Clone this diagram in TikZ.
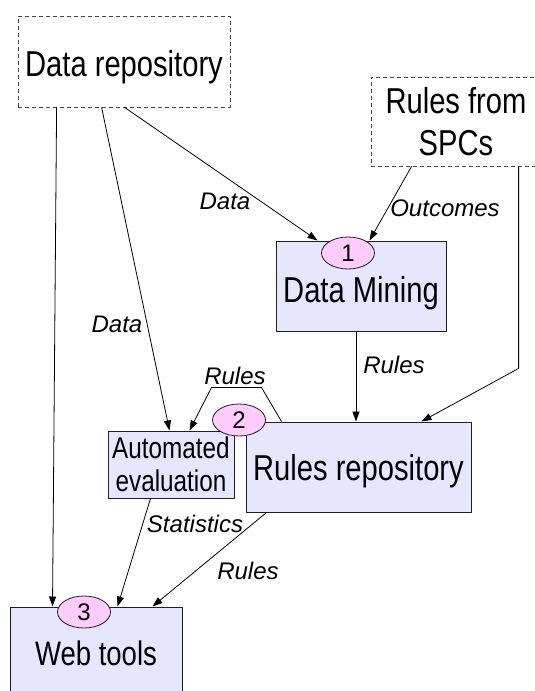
\documentclass[tikz,border=0pt]{standalone}
\usepackage{fontspec}
\setmainfont{Liberation Sans}
\newfontfamily\boxfont[FakeStretch=0.81]{Liberation Sans}
\usepackage{tikz}
\usetikzlibrary{arrows.meta,positioning,shapes.geometric}
\definecolor{dfedge}{RGB}{30,30,30}
\definecolor{dfdash}{RGB}{70,70,70}
\definecolor{dfbox}{RGB}{230,230,255}
\definecolor{dfnum}{RGB}{255,204,255}
\tikzset{
  dfbase/.style={inner sep=0pt, align=center, text=black},
  store/.style={
    dfbase, draw=dfdash, line width=0.8pt, dash pattern=on 4pt off 3pt,
    font=\boxfont\fontsize{36}{42}\selectfont
  },
  proc/.style={
    dfbase, draw=dfedge, line width=1pt, fill=dfbox,
    font=\boxfont\fontsize{36}{42}\selectfont
  },
  num/.style={
    ellipse, draw=dfedge, line width=0.8pt, fill=dfnum, inner sep=0pt,
    minimum width=53pt, minimum height=32pt, font=\fontsize{24}{26}\selectfont
  },
  lbl/.style={inner sep=0pt, font=\itshape\fontsize{24}{26}\selectfont},
  arr/.style={-{Triangle[length=10pt,width=7pt]}, draw=black, line width=0.8pt},
  every picture/.append style={line join=round}
}

\begin{document}
\begin{tikzpicture}[x=1pt, y=-1pt]
  \path[use as bounding box, fill=white] (0,0) rectangle (535,691);
  \clip (0,0) rectangle (535,691);
  % stores and processes
  \node[store, minimum width=212pt, minimum height=91pt, text height=31pt, text depth=2pt] (datarepo) at (124,61.5) {Data repository};
  \node[store, minimum width=170pt, minimum height=89pt] (spcs) at (456,121.5) {Rules from\\SPCs};
  \node[proc, minimum width=170pt, minimum height=90pt, text height=34pt, text depth=2pt] (mining) at (361,286) {Data Mining};
  \node[proc, minimum width=225pt, minimum height=90pt, text height=28pt, text depth=2pt] (rulesrepo) at (358.5,467) {Rules repository};
  \node[proc, minimum width=126pt, minimum height=67pt, font=\boxfont\fontsize{30}{33}\selectfont] (autoeval) at (171,464.5) {Automated\\evaluation};
  \node[proc, minimum width=172pt, minimum height=98pt, text height=20pt, text depth=2pt, font=\boxfont\fontsize{34}{40}\selectfont] (webtools) at (96,656) {Web tools};
  % flows
  \draw[arr] ([xshift=39pt]datarepo.south west) -- ([xshift=43pt]webtools.north west);
  \draw[arr] ([xshift=84pt]datarepo.south west) -- ([xshift=62pt]autoeval.north west);
  \draw[arr] ([xshift=107pt]datarepo.south west) -- ([xshift=42pt]mining.north west);
  \draw[arr] ([xshift=41pt]spcs.south west) -- ([xshift=94pt]mining.north west);
  \draw[arr] ([xshift=148pt]spcs.south west) -- ++(0,202) -- ([xshift=176pt]rulesrepo.north west);
  \draw[arr] ([xshift=-5pt]mining.south) -- ([xshift=-5pt]mining.south |- rulesrepo.north);
  \draw[arr] ([xshift=36pt]rulesrepo.north west) -- ++(-20,-34) -- ++(-50,0) -- ([xshift=82pt]autoeval.north west);
  \draw[arr] ([xshift=43pt]autoeval.south west) -- ([xshift=108pt]webtools.north west);
  \draw[arr] ([xshift=21pt]rulesrepo.south west) -- ([xshift=143pt]webtools.north west);
  % flow labels
  \node[lbl] (ldataA) at (225,201) {Data};
  \node[lbl] (ldataB) at (117,324) {Data};
  \node[lbl] (lout) at (445,208) {Outcomes};
  \node[lbl] (lrulesA) at (394,365) {Rules};
  \node[lbl] (lrulesB) at (235,376) {Rules};
  \node[lbl] (lstat) at (195,524) {Statistics};
  \node[lbl] (lrulesC) at (248,571) {Rules};
  % step numbers
  \node[num] (n1) at (348,253) {1};
  \node[num] (n2) at (239,420) {2};
  \node[num] (n3) at (84,612) {3};
\end{tikzpicture}
\end{document}
